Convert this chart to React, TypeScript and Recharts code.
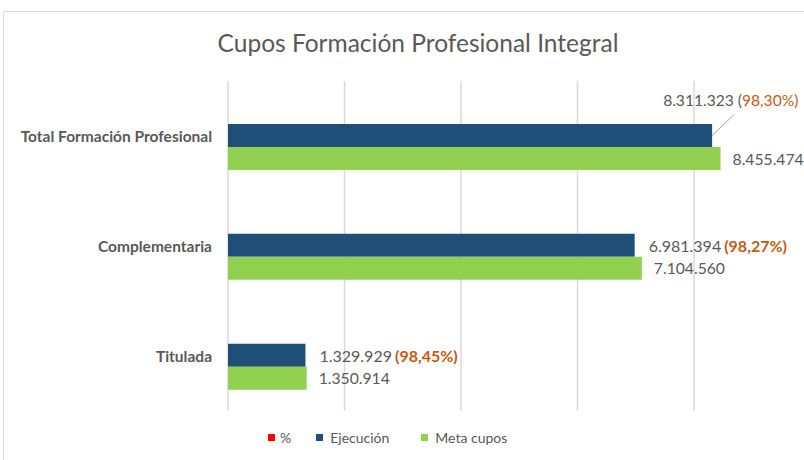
import React from 'react';
import { BarChart, Bar, XAxis, YAxis, CartesianGrid, LabelList } from 'recharts';

const categories = ['Total Formación Profesional', 'Complementaria', 'Titulada'];
const ejecucion = [8311323, 6981394, 1329929];
const metaCupos = [8455474, 7104560, 1350914];
const porcentaje = [0.983, 0.9827, 0.9845];
const porcentajeLabels = ['98,30%', '98,27%', '98,45%'];
const xTicks = [0, 2000000, 4000000, 6000000, 8000000, 10000000];

const SERIES = [
  { key: 'pct', name: '%', color: '#FF0000' },
  { key: 'ejecucion', name: 'Ejecución', color: '#1F4E79' },
  { key: 'meta', name: 'Meta cupos', color: '#92D050' },
];

const data = categories.map((name, i) => ({
  name,
  pct: porcentaje[i],
  ejecucion: ejecucion[i],
  meta: metaCupos[i],
}));

const FONT = 'Lato, "Open Sans", sans-serif';
const GRAY = '#595959';
const ORANGE = '#C55A11';
// the first Ejecución label was dragged up in the original chart
const MOVED_LABEL = 0;

const fmt = (v: number) => v.toLocaleString('de-DE');

const EjecucionLabel = (props: any) => {
  const { x, y, width, height, index, value } = props;
  const endX = x + width;
  const cy = y + height / 2;
  if (index === MOVED_LABEL) {
    return (
      <g>
        <line x1={endX} y1={cy} x2={endX + 22} y2={cy - 21} stroke="#A6A6A6" strokeWidth={1} />
        <text x={endX - 49} y={cy - 36} dominantBaseline="central" fontFamily={FONT} fontSize={15.6}>
          <tspan fill={GRAY}>{fmt(value)} (</tspan>
          <tspan fill={ORANGE}>{porcentajeLabels[index]})</tspan>
        </text>
      </g>
    );
  }
  return (
    <text x={endX + 14} y={cy} dominantBaseline="central" fontFamily={FONT} fontSize={16}>
      <tspan fill={GRAY}>{fmt(value)}</tspan>
      <tspan dx={3} fill={ORANGE} fontWeight={700}>({porcentajeLabels[index]})</tspan>
    </text>
  );
};

const MetaLabel = (props: any) => {
  const { x, y, width, height, value } = props;
  return (
    <text x={x + width + 12} y={y + height / 2} dominantBaseline="central" fontFamily={FONT} fontSize={15.7} fill={GRAY}>
      {fmt(value)}
    </text>
  );
};

const CategoryTick = (props: any) => {
  const { x, y, payload } = props;
  return (
    <text x={x} y={y} textAnchor="end" dominantBaseline="central" fontFamily={FONT} fontSize={15.5} fontWeight={700} fill={GRAY}>
      {payload.value}
    </text>
  );
};

export default function App() {
  return (
    <div style={{ position: 'absolute', left: 0, top: 0, width: 804, height: 460, overflow: 'hidden', background: '#fff', fontFamily: FONT }}>
      <div style={{ position: 'absolute', left: 3, top: 11, width: 900, height: 600, border: '1.5px solid #D9D9D9' }} />
      <div style={{ position: 'absolute', left: 0, top: 28, width: 836, textAlign: 'center', fontSize: 24.5, color: GRAY }}>
        Cupos Formación Profesional Integral
      </div>
      <div style={{ position: 'absolute', left: 0, top: 0 }}>
        <BarChart
          width={830}
          height={460}
          data={data}
          layout="vertical"
          margin={{ top: 81, right: 19.5, bottom: 48.5, left: 0 }}
          barSize={23}
          barGap={0}
        >
          <CartesianGrid horizontal={false} stroke="#D9D9D9" strokeWidth={1.5} />
          <XAxis
            type="number"
            domain={[0, 10000000]}
            ticks={xTicks}
            interval={0}
            tick={() => <g />}
            axisLine={false}
            tickLine={false}
            height={1}
          />
          <YAxis
            type="category"
            dataKey="name"
            width={228}
            axisLine={false}
            tickLine={false}
            tickSize={0}
            tickMargin={16}
            tick={<CategoryTick />}
          />
          {SERIES.map((s) => (
            <Bar key={s.key} dataKey={s.key} name={s.name} fill={s.color} isAnimationActive={false}>
              {s.key === 'ejecucion' && <LabelList dataKey="ejecucion" content={<EjecucionLabel />} />}
              {s.key === 'meta' && <LabelList dataKey="meta" content={<MetaLabel />} />}
            </Bar>
          ))}
        </BarChart>
      </div>
      <div style={{ position: 'absolute', top: 429, left: 268, display: 'flex', alignItems: 'center', fontSize: 14, color: GRAY }}>
        {SERIES.map((s, i) => (
          <div key={s.key} style={{ display: 'flex', alignItems: 'center', marginRight: i === 0 ? 25 : 32 }}>
            <span style={{ width: 7, height: 7, background: s.color, marginRight: i === 0 ? 5 : 7, display: 'inline-block' }} />
            <span>{s.name}</span>
          </div>
        ))}
      </div>
    </div>
  );
}
